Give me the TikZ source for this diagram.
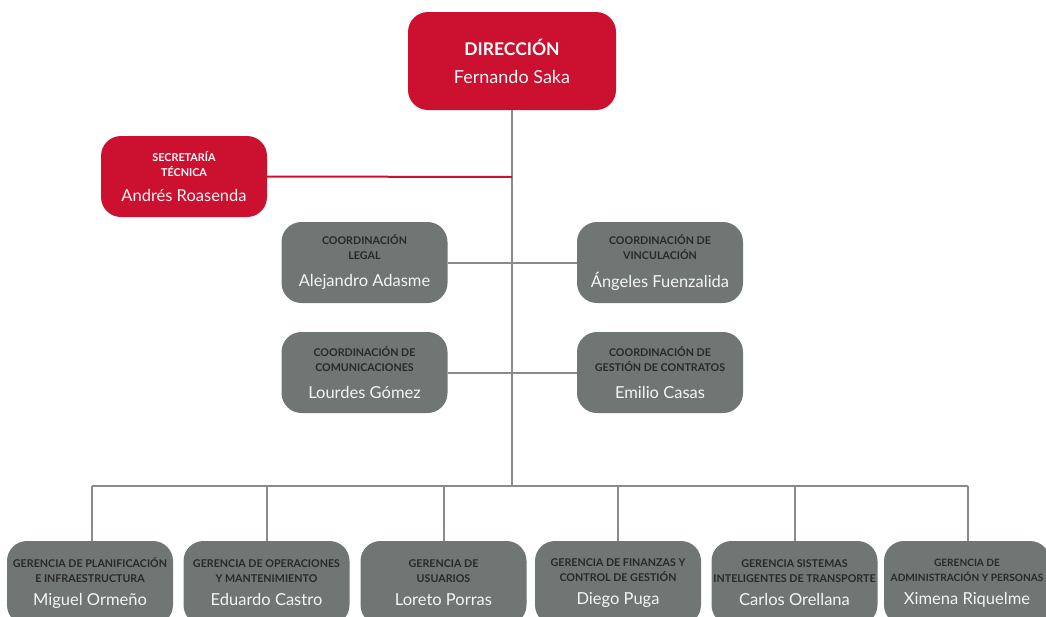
\documentclass[tikz,border=0pt]{standalone}
\usepackage{fontspec}
\setmainfont{Lato}
\definecolor{redbox}{RGB}{204,16,48}
\definecolor{greybox}{RGB}{111,118,115}
\definecolor{linegrey}{RGB}{138,138,138}
\definecolor{ttldark}{RGB}{40,42,41}
\definecolor{namewhite}{RGB}{245,245,245}
\newcommand{\ttl}{\fontsize{10.7}{15}\selectfont\bfseries\color{ttldark}}
\newcommand{\ttls}{\fontsize{10.1}{15}\selectfont\bfseries\color{ttldark}}
\newcommand{\ttw}{\fontsize{10.8}{15}\selectfont\bfseries\color{white}}
\newcommand{\nm}{\fontsize{16.5}{18}\selectfont\color{namewhite}}
\begin{document}
\begin{tikzpicture}[x=1pt,y=-1pt,
  rbox/.style={fill=redbox, rounded corners=20pt, minimum width=166pt, minimum height=81pt, align=center, inner sep=0pt, font=\fontsize{10}{15}\selectfont},
  gbox/.style={fill=greybox, rounded corners=20pt, minimum width=166pt, minimum height=81pt, align=center, inner sep=0pt, font=\fontsize{10}{15}\selectfont},
  bbox/.style={gbox, minimum height=84pt},
  conn/.style={draw=linegrey, line width=2pt},
  rconn/.style={draw=redbox, line width=2pt}]
\useasboundingbox (0,0) rectangle (1046,616);
\clip (0,0) rectangle (1046,616);
% trunk
\coordinate (bus) at (512,486);
\coordinate (busL) at (92,486);
\coordinate (busR) at (968,486);
\coordinate (tsec) at (512,177);
% top boxes
\node[rbox, minimum width=208pt, minimum height=98pt] (dir) at (512,61)
  {\fontsize{17.5}{20}\selectfont\bfseries\color{white} DIRECCIÓN\\[13pt]\fontsize{18}{20}\selectfont\color{namewhite} Fernando Saka};
\node[rbox] (sec) at (184,176.5)
  {\ttw SECRETARÍA\\\ttw TÉCNICA\\[10pt]\nm Andrés Roasenda};
\node[gbox] (leg) at (364.5,262.5)
  {\ttl COORDINACIÓN\\\ttl LEGAL\\[12pt]\nm Alejandro Adasme};
\node[gbox] (vin) at (660,262.5)
  {\ttl COORDINACIÓN DE\\\ttl VINCULACIÓN\\[12pt]\nm Ángeles Fuenzalida};
\node[gbox] (com) at (364.5,372.5)
  {\ttl COORDINACIÓN DE\\\ttl COMUNICACIONES\\[12pt]\nm Lourdes Gómez};
\node[gbox] (con) at (660,372.5)
  {\ttl COORDINACIÓN DE\\\ttl GESTIÓN DE CONTRATOS\\[12pt]\nm Emilio Casas};
% bottom boxes
\node[bbox] (g1) at (90,583)
  {\ttl GERENCIA DE PLANIFICACIÓN\\\ttl E INFRAESTRUCTURA\\[8pt]\nm Miguel Ormeño};
\node[bbox] (g2) at (266.5,583)
  {\ttl GERENCIA DE OPERACIONES\\\ttl Y MANTENIMIENTO\\[8pt]\nm Eduardo Castro};
\node[bbox] (g3) at (443.5,583)
  {\ttl GERENCIA DE\\\ttl USUARIOS\\[8pt]\nm Loreto Porras};
\node[bbox] (g4) at (618,583)
  {\ttl GERENCIA DE FINANZAS Y\\\ttl CONTROL DE GESTIÓN\\[8pt]\nm Diego Puga};
\node[bbox] (g5) at (794.5,583)
  {\ttl GERENCIA SISTEMAS\\\ttl INTELIGENTES DE TRANSPORTE\\[8pt]\nm Carlos Orellana};
\node[bbox] (g6) at (967,583)
  {\ttls GERENCIA DE\\\ttls ADMINISTRACIÓN Y PERSONAS\\[8pt]\nm Ximena Riquelme};
% connectors
\draw[conn, line width=2.4pt] (dir.south) -- (bus);
\draw[rconn] (sec.east) -- (tsec);
\draw[conn] (leg.east) -- (vin.west);
\draw[conn] (com.east) -- (con.west);
\draw[conn] (busL) -- (busR);
\draw[conn] (busL) -- (busL |- g1.north);
\draw[conn] (g2.north |- bus) -- (g2.north);
\draw[conn] (g3.north |- bus) -- (g3.north);
\draw[conn] (g4.north |- bus) -- (g4.north);
\draw[conn] (g5.north |- bus) -- (g5.north);
\draw[conn] (busR) -- (busR |- g6.north);
\end{tikzpicture}
\end{document}
